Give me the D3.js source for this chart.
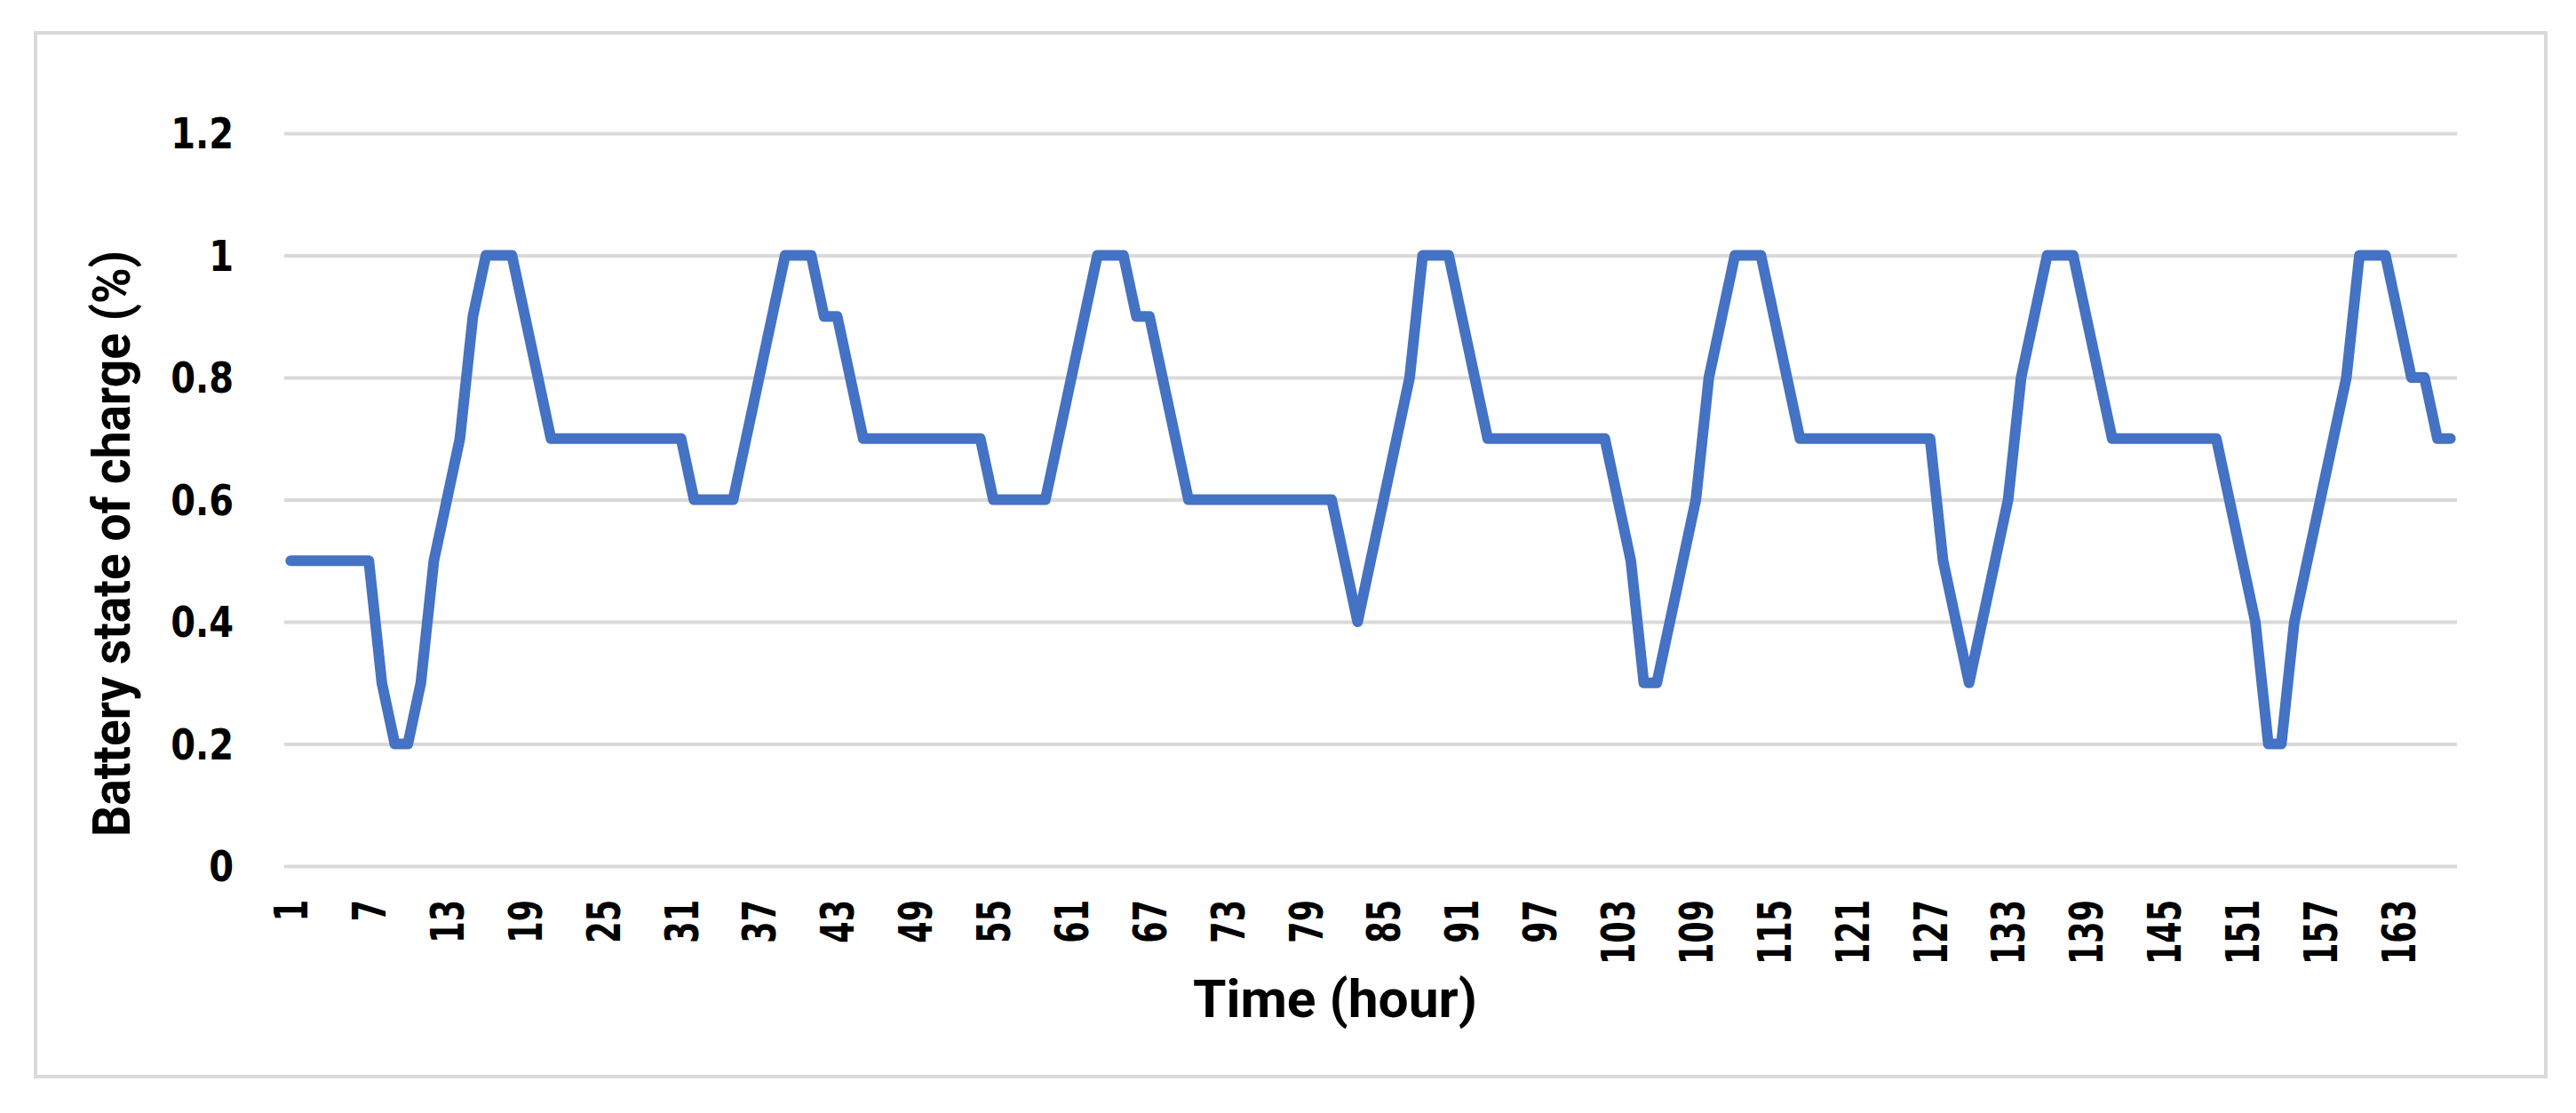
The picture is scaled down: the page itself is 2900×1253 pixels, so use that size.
<!DOCTYPE html>
<html lang="en">
<head>
  <meta charset="UTF-8">
  <title>Battery state of charge</title>
  <script src="https://d3js.org/d3.v7.min.js"></script>
  <style>
    body { margin: 0; background: #fff; }
  </style>
</head>
<body>
  <div id="container"></div>
  <script>
    // hour index of each sample (x categories)
    const hours = d3.range(1, 168)

    // battery state of charge per hour
    const soc = [
      0.5, 0.5, 0.5, 0.5, 0.5, 0.5, 0.5, 0.3, 0.2, 0.2, 0.3, 0.5,
      0.6, 0.7, 0.9, 1, 1, 1, 0.9, 0.8, 0.7, 0.7, 0.7, 0.7,
      0.7, 0.7, 0.7, 0.7, 0.7, 0.7, 0.7, 0.6, 0.6, 0.6, 0.6, 0.7,
      0.8, 0.9, 1, 1, 1, 0.9, 0.9, 0.8, 0.7, 0.7, 0.7, 0.7,
      0.7, 0.7, 0.7, 0.7, 0.7, 0.7, 0.6, 0.6, 0.6, 0.6, 0.6, 0.7,
      0.8, 0.9, 1, 1, 1, 0.9, 0.9, 0.8, 0.7, 0.6, 0.6, 0.6,
      0.6, 0.6, 0.6, 0.6, 0.6, 0.6, 0.6, 0.6, 0.6, 0.5, 0.4, 0.5,
      0.6, 0.7, 0.8, 1, 1, 1, 0.9, 0.8, 0.7, 0.7, 0.7, 0.7,
      0.7, 0.7, 0.7, 0.7, 0.7, 0.7, 0.6, 0.5, 0.3, 0.3, 0.4, 0.5,
      0.6, 0.8, 0.9, 1, 1, 1, 0.9, 0.8, 0.7, 0.7, 0.7, 0.7,
      0.7, 0.7, 0.7, 0.7, 0.7, 0.7, 0.7, 0.5, 0.4, 0.3, 0.4, 0.5,
      0.6, 0.8, 0.9, 1, 1, 1, 0.9, 0.8, 0.7, 0.7, 0.7, 0.7,
      0.7, 0.7, 0.7, 0.7, 0.7, 0.6, 0.5, 0.4, 0.2, 0.2, 0.4, 0.5,
      0.6, 0.7, 0.8, 1, 1, 1, 0.9, 0.8, 0.8, 0.7, 0.7
    ]

    // tick labels
    const xTicks = [1, 7, 13, 19, 25, 31, 37, 43, 49, 55, 61, 67, 73, 79, 85, 91, 97,
      103, 109, 115, 121, 127, 133, 139, 145, 151, 157, 163]
    const yTicks = [0, 0.2, 0.4, 0.6, 0.8, 1, 1.2]

    const W = 2900, H = 1253
    const plot = {left: 320, right: 2766, top: 150, bottom: 975}
    const grey = '#d9d9d9'
    const blue = '#4472c4'

    const svg = d3.select('#container').append('svg')
      .attr('width', W)
      .attr('height', H)

    // outer chart border
    svg.append('rect')
      .attr('x', 40).attr('y', 37)
      .attr('width', 2826).attr('height', 1175)
      .attr('fill', '#fff')
      .attr('stroke', grey)
      .attr('stroke-width', 4)

    const x = d3.scalePoint()
      .domain(hours)
      .range([plot.left, plot.right])
      .padding(0.5)

    const y = d3.scaleLinear()
      .domain([0, 1.2])
      .range([plot.bottom, plot.top])

    // y axis with gridlines
    const yAxis = svg.append('g')
      .attr('transform', `translate(${plot.left},0)`)
      .call(d3.axisLeft(y)
        .tickValues(yTicks)
        .tickFormat(d => String(d))
        .tickSize(-(plot.right - plot.left))
        .tickPadding(57))
    yAxis.select('.domain').remove()
    yAxis.selectAll('line')
      .attr('stroke', grey)
      .attr('stroke-width', 4)
    yAxis.selectAll('text')
      .attr('font-family', 'DejaVu Sans')
      .attr('font-weight', 'bold')
      .attr('font-size', 40)
      .attr('fill', '#000')
      .attr('dy', '0.36em')
      .attr('transform', 'scale(1,1.18)')

    // x axis, rotated labels
    const xAxis = svg.append('g')
      .attr('transform', `translate(0,${plot.bottom})`)
      .call(d3.axisBottom(x)
        .tickValues(xTicks)
        .tickSize(0))
    xAxis.select('.domain').remove()
    xAxis.selectAll('text')
      .attr('font-family', 'DejaVu Sans')
      .attr('font-weight', 'bold')
      .attr('font-size', 35)
      .attr('fill', '#000')
      .attr('text-anchor', 'end')
      .attr('x', 0)
      .attr('y', 0)
      .attr('dy', '0.36em')
      .attr('transform', 'translate(0,38) rotate(-90) scale(1,1.45)')

    // the series
    const line = d3.line()
      .x((d, i) => x(hours[i]))
      .y(d => y(d))

    svg.append('path')
      .datum(soc)
      .attr('d', line)
      .attr('fill', 'none')
      .attr('stroke', blue)
      .attr('stroke-width', 12)
      .attr('stroke-linejoin', 'round')
      .attr('stroke-linecap', 'round')

    // axis titles
    svg.append('text')
      .attr('x', 1503)
      .attr('y', 1145)
      .attr('text-anchor', 'middle')
      .attr('font-family', 'Roboto')
      .attr('font-weight', 'bold')
      .attr('font-size', 59)
      .attr('textLength', 320)
      .attr('lengthAdjust', 'spacingAndGlyphs')
      .text('Time (hour)')

    svg.append('text')
      .attr('transform', 'translate(146,612) rotate(-90)')
      .attr('text-anchor', 'middle')
      .attr('font-family', 'Roboto')
      .attr('font-weight', 'bold')
      .attr('font-size', 59)
      .attr('textLength', 660)
      .attr('lengthAdjust', 'spacingAndGlyphs')
      .text('Battery state of charge (%)')
  </script>
</body>
</html>
